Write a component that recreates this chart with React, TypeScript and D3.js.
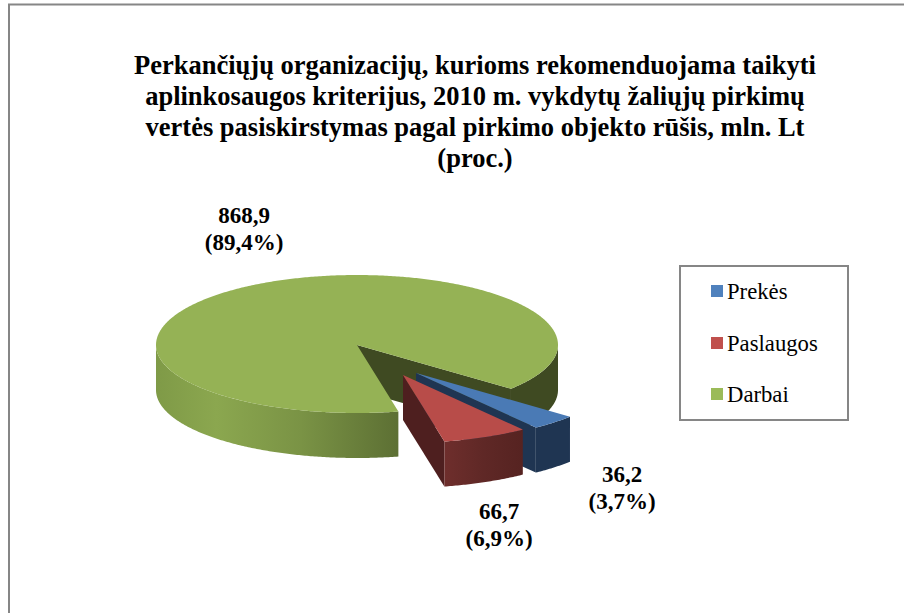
import React from "react";
import * as d3 from "d3";

const categories = ["Prekės", "Paslaugos", "Darbai"];
const values = [36.2, 66.7, 868.9];
const percents = ["3,7%", "6,9%", "89,4%"];
const valueLabels = ["36,2", "66,7", "868,9"];
const titleLines = [
  "Perkančiųjų organizacijų, kurioms rekomenduojama taikyti",
  "aplinkosaugos kriterijus, 2010 m. vykdytų žaliųjų pirkimų",
  "vertės pasiskirstymas pagal pirkimo objekto rūšis, mln. Lt",
  "(proc.)",
];
const topColors = ["#4a7ab5", "#b84c49", "#95b255"];
const legendColors = ["#4f81bd", "#c0504d", "#9bbb59"];

const W = 904, H = 613;
const cx = 357, cy = 345, rx = 201, ryTop = 70, ryBot = 68, depth = 45;
const explode = [[59, 28], [46, 30], [0, 0]];
const labelPos = [[622, 482], [499, 519], [244, 223]];
const FONT = "'Liberation Serif','Times New Roman',serif";

const startDeg = 130;
const pie = d3.pie<number>().sort(null)
  .startAngle((startDeg * Math.PI) / 180)
  .endAngle(((startDeg + 360) * Math.PI) / 180);
const arcs = pie(values);

function pt(a: number, o: number[], dy = 0): [number, number] {
  const c = Math.cos(a);
  return [cx + o[0] + rx * Math.sin(a), cy + o[1] + dy - c * (c > 0 ? ryTop : ryBot)];
}
const line = d3.line();
function samples(a0: number, a1: number): number[] {
  const n = Math.max(2, Math.ceil(Math.abs(a1 - a0) / 0.01));
  return d3.range(n + 1).map((i) => a0 + ((a1 - a0) * i) / n);
}
function topFace(i: number) {
  const o = explode[i];
  const apex: [number, number] = [cx + o[0], cy + o[1]];
  const { startAngle: s, endAngle: e } = arcs[i];
  return line([apex, ...samples(s, e).map((a) => pt(a, o))])! + "Z";
}
function outerWall(i: number, a0: number, a1: number) {
  const o = explode[i];
  const f = samples(a0, a1);
  return line([...f.map((a) => pt(a, o)), ...f.slice().reverse().map((a) => pt(a, o, depth))])! + "Z";
}
function cutWall(i: number, a: number) {
  const o = explode[i];
  const apex: [number, number] = [cx + o[0], cy + o[1]];
  const apexB: [number, number] = [apex[0], apex[1] + depth];
  return line([apex, pt(a, o), pt(a, o, depth), apexB])! + "Z";
}

const green = arcs[2], red = arcs[1], blue = arcs[0];
const deg = Math.PI / 180;

export default function App() {
  return (
    <svg width={W} height={H} style={{ position: "absolute", left: 0, top: 0, background: "#fff" }}>
      <defs>
        <linearGradient id="gFront" gradientUnits="userSpaceOnUse" x1={156} x2={397} y1={0} y2={0}>
          <stop offset="0" stopColor="#7f9a47" />
          <stop offset="0.25" stopColor="#8ba74f" />
          <stop offset="0.6" stopColor="#7a9345" />
          <stop offset="1" stopColor="#5d7034" />
        </linearGradient>
        <linearGradient id="rFront" gradientUnits="userSpaceOnUse" x1={445} x2={523} y1={0} y2={0}>
          <stop offset="0" stopColor="#6e2e2c" />
          <stop offset="0.5" stopColor="#5f2826" />
          <stop offset="1" stopColor="#562321" />
        </linearGradient>
      </defs>
      <path d={`M9 ${H}V4.5H${W}`} fill="none" stroke="#868686" strokeWidth={2} />

      {titleLines.map((t, i) => (
        <text key={i} x={475} y={[74, 105, 136, 167][i]} textAnchor="middle" fontFamily={FONT}
          fontWeight="bold" fontSize={26.5} fill="#000">{t}</text>
      ))}

      <path d={outerWall(2, 90 * deg, green.endAngle - 2 * Math.PI)} fill="#3f4a22" />
      <path d={cutWall(2, green.endAngle)} fill="#3f4a22" />
      <path d={outerWall(2, green.startAngle, 270 * deg)} fill="url(#gFront)" />
      <path d={topFace(2)} fill={topColors[2]} />

      <path d={outerWall(0, blue.startAngle, blue.endAngle)} fill="#1f3552" />
      <path d={cutWall(0, blue.endAngle)} fill="#1f3552" />
      <path d={topFace(0)} fill={topColors[0]} />

      <path d={cutWall(1, red.endAngle)} fill="#4e1f1f" />
      <path d={outerWall(1, red.startAngle, red.endAngle)} fill="url(#rFront)" />
      <path d={topFace(1)} fill={topColors[1]} />

      {categories.map((_, i) => (
        <text key={i} textAnchor="middle" fontFamily={FONT} fontWeight="bold" fontSize={23} fill="#000">
          <tspan x={labelPos[i][0]} y={labelPos[i][1]}>{valueLabels[i]}</tspan>
          <tspan x={labelPos[i][0]} y={labelPos[i][1] + 27}>({percents[i]})</tspan>
        </text>
      ))}

      <rect x={680} y={266} width={168} height={154} fill="#fff" stroke="#868686" strokeWidth={2} />
      {categories.map((c, i) => {
        const y = [285, 337, 388][i];
        return (
          <g key={c}>
            <rect x={711} y={y} width={12} height={12} fill={legendColors[i]} />
            <text x={727} y={y + 14} fontFamily={FONT} fontSize={22.7} fill="#000">{c}</text>
          </g>
        );
      })}
    </svg>
  );
}
